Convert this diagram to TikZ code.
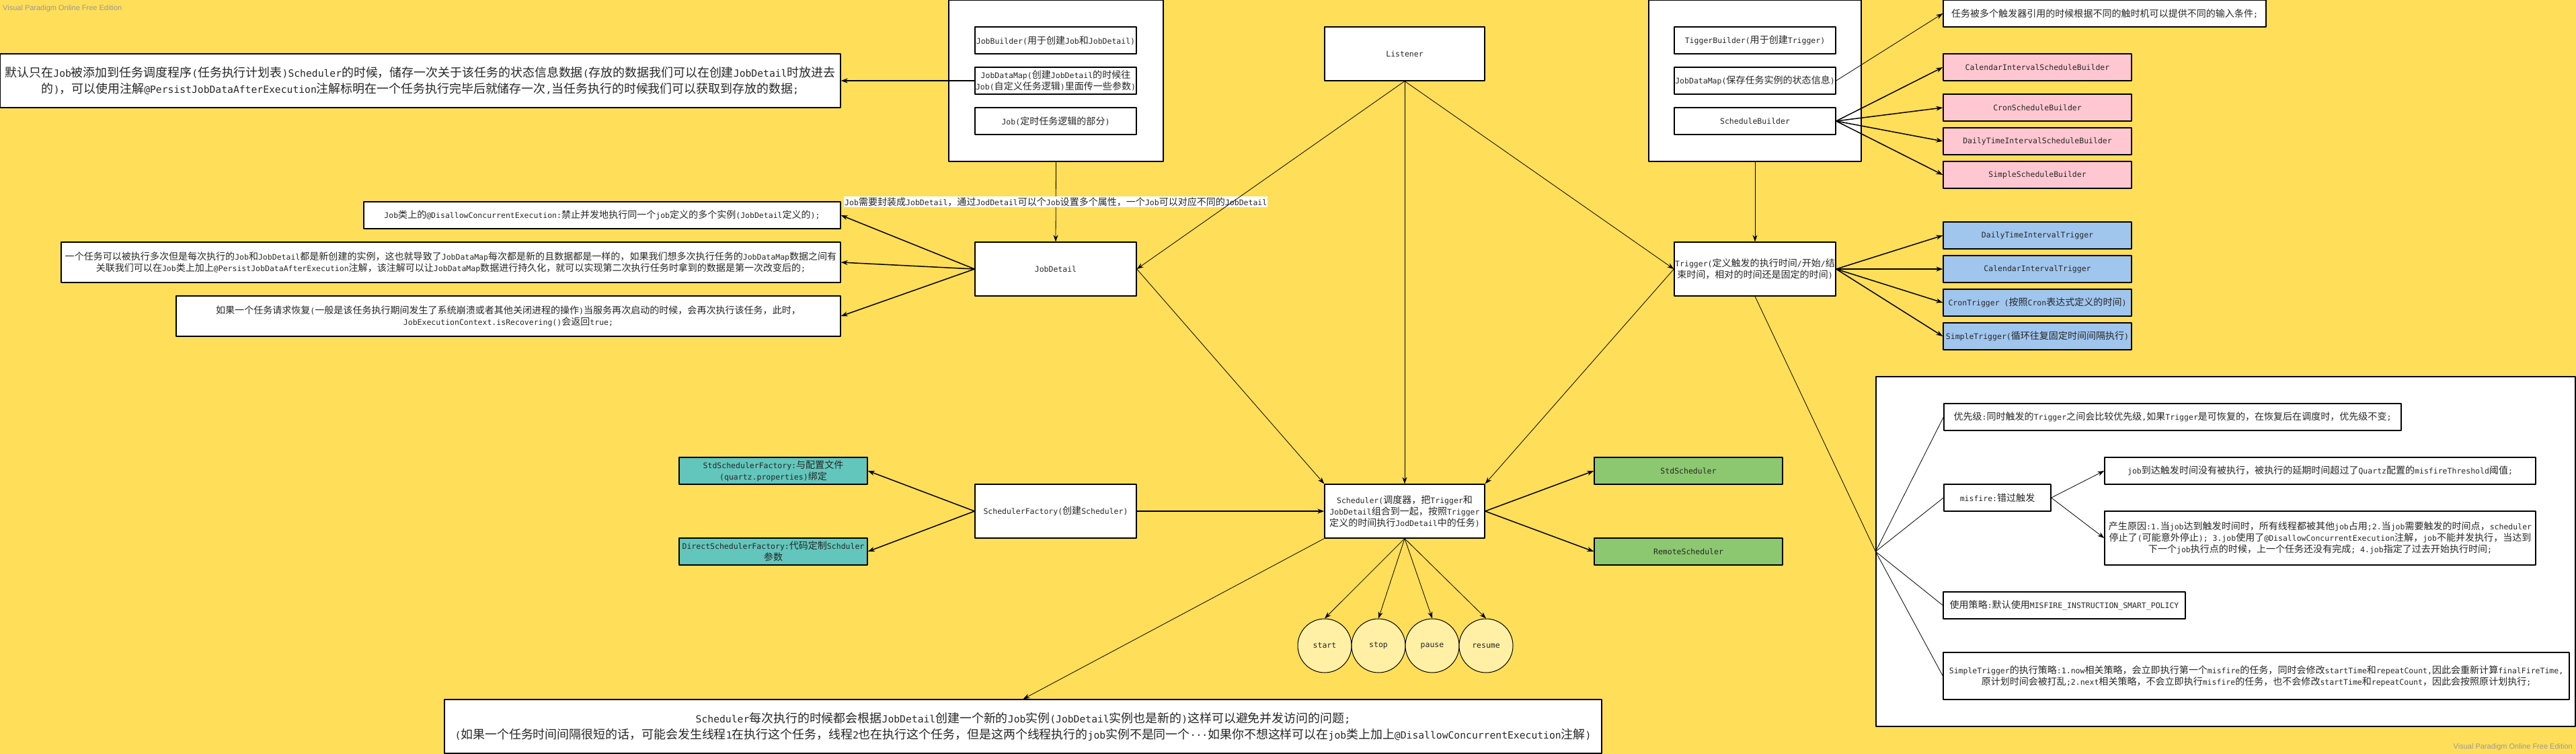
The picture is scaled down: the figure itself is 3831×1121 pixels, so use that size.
\documentclass[tikz,border=0pt]{standalone}
\usepackage{fontspec}
\setmainfont{DejaVu Sans Mono}
\newfontfamily\cjkfont{Noto Sans CJK SC}[Scale=1.22]
\newfontfamily\wmfont{Liberation Sans}
\usetikzlibrary{arrows.meta}
\definecolor{bg}{RGB}{255,222,89}
\definecolor{pinkbox}{RGB}{255,199,210}
\definecolor{bluebox}{RGB}{160,198,238}
\definecolor{tealbox}{RGB}{98,198,188}
\definecolor{greenbox}{RGB}{140,200,112}
\definecolor{dotbox}{RGB}{255,240,166}
\XeTeXinterchartokenstate=1
\newXeTeXintercharclass\cjkclass
\newcount\cjkcode
\def\cjkrange#1#2{\cjkcode=#1\relax
	\loop\XeTeXcharclass\cjkcode=\cjkclass\relax
	\ifnum\cjkcode<#2\advance\cjkcode by 1\repeat}
\cjkrange{"3000}{"303F}
\cjkrange{"4E00}{"9FFF}
\cjkrange{"FF00}{"FFEF}
\XeTeXinterchartoks 0 \cjkclass = {\begingroup\cjkfont}
\XeTeXinterchartoks 4095 \cjkclass = {\begingroup\cjkfont}
\XeTeXinterchartoks \cjkclass 0 = {\endgroup}
\XeTeXinterchartoks \cjkclass 4095 = {\endgroup}
\begin{document}
\begin{tikzpicture}[x=1pt, y=-1pt, >={Stealth[length=10pt,width=7pt]}, font=\fontsize{11.5}{17}\selectfont, line join=round, line cap=round,
	box/.style={draw, line width=1.3pt, fill=white, text=black!85, inner sep=0pt, align=center},
	big/.style={font=\fontsize{14.7}{24}\selectfont},
	thin/.style={->, line width=0.8pt},
	thick/.style={->, line width=1.5pt},
	wm/.style={font=\wmfont\fontsize{11}{13}\selectfont, text=black!40, inner sep=0pt}]
	\path[fill=bg, use as bounding box] (0,0) rectangle (3831,1121);
	\node[wm, anchor=west] (WMa) at (4,13) {Visual Paradigm Online Free Edition};
	\node[wm, anchor=east] (WMb) at (3826,1111) {Visual Paradigm Online Free Edition};
	
	\node[box, minimum width=319, minimum height=240] (JobBox) at (1570.5,120) {};
	\node[box, minimum width=240, minimum height=40] (JBuild) at (1570,60) {JobBuilder(用于创建Job和JobDetail)};
	\node[box, minimum width=240, minimum height=40] (JMap) at (1570,120) {JobDataMap(创建JobDetail的时候往\\Job(自定义任务逻辑)里面传一些参数)};
	\node[box, minimum width=240, minimum height=40] (JobL) at (1570,180) {Job(定时任务逻辑的部分)};
	\node[box, big, minimum width=1250, minimum height=80] (Note) at (625,120) {默认只在Job被添加到任务调度程序(任务执行计划表)Scheduler的时候，储存一次关于该任务的状态信息数据(存放的数据我们可以在创建JobDetail时放进去\\的)，可以使用注解@PersistJobDataAfterExecution注解标明在一个任务执行完毕后就储存一次,当任务执行的时候我们可以获取到存放的数据;};
	\node[box, minimum width=238, minimum height=80] (Lis) at (2089,80) {Listener};
	
	\node[box, minimum width=316, minimum height=240] (TrBox) at (2610,120) {};
	\node[box, minimum width=240, minimum height=40] (TBuild) at (2610,60) {TiggerBuilder(用于创建Trigger)};
	\node[box, minimum width=240, minimum height=40] (TMap) at (2610,120) {JobDataMap(保存任务实例的状态信息)};
	\node[box, minimum width=240, minimum height=40] (SBuild) at (2610,180) {ScheduleBuilder};
	\node[box, minimum width=480, minimum height=40] (TNote) at (3130,20) {任务被多个触发器引用的时候根据不同的触时机可以提供不同的输入条件;};
	\node[box, fill=pinkbox, minimum width=280, minimum height=40] (CalB) at (3030,100) {CalendarIntervalScheduleBuilder};
	\node[box, fill=pinkbox, minimum width=280, minimum height=40] (CronB) at (3030,160) {CronScheduleBuilder};
	\node[box, fill=pinkbox, minimum width=280, minimum height=40] (DailyB) at (3030,210) {DailyTimeIntervalScheduleBuilder};
	\node[box, fill=pinkbox, minimum width=280, minimum height=40] (SimB) at (3030,260) {SimpleScheduleBuilder};
	
	\node[box, minimum width=240, minimum height=80] (JD) at (1570,400) {JobDetail};
	\node[box, minimum width=709, minimum height=40] (Na) at (895.5,320) {Job类上的@DisallowConcurrentExecution:禁止并发地执行同一个job定义的多个实例(JobDetail定义的);};
	\node[box, minimum width=1159, minimum height=60] (Nb) at (670.5,390) {一个任务可以被执行多次但是每次执行的Job和JobDetail都是新创建的实例，这也就导致了JobDataMap每次都是新的且数据都是一样的，如果我们想多次执行任务的JobDataMap数据之间有\\关联我们可以在Job类上加上@PersistJobDataAfterExecution注解，该注解可以让JobDataMap数据进行持久化，就可以实现第二次执行任务时拿到的数据是第一次改变后的;};
	\node[box, minimum width=988, minimum height=60] (Nc) at (756,470) {如果一个任务请求恢复(一般是该任务执行期间发生了系统崩溃或者其他关闭进程的操作)当服务再次启动的时候，会再次执行该任务，此时，\\JobExecutionContext.isRecovering()会返回true;};
	
	\node[box, minimum width=240, minimum height=80] (Tr) at (2610,400) {Trigger(定义触发的执行时间/开始/结\\束时间，相对的时间还是固定的时间)};
	\node[box, fill=bluebox, minimum width=280, minimum height=40] (DailyT) at (3030,350) {DailyTimeIntervalTrigger};
	\node[box, fill=bluebox, minimum width=280, minimum height=40] (CalT) at (3030,400) {CalendarIntervalTrigger};
	\node[box, fill=bluebox, minimum width=280, minimum height=40] (CronT) at (3030,450) {CronTrigger (按照Cron表达式定义的时间)};
	\node[box, fill=bluebox, minimum width=280, minimum height=40] (SimT) at (3030,500) {SimpleTrigger(循环往复固定时间间隔执行)};
	
	\node[box, minimum width=240, minimum height=80] (SF) at (1570,760) {SchedulerFactory(创建Scheduler)};
	\node[box, fill=tealbox, minimum width=280, minimum height=40] (StdF) at (1150,700) {StdSchedulerFactory:与配置文件\\(quartz.properties)绑定};
	\node[box, fill=tealbox, minimum width=280, minimum height=40] (DirF) at (1150,820) {DirectSchedulerFactory:代码定制Schduler\\参数};
	\node[box, minimum width=238, minimum height=80] (Sch) at (2089,760) {Scheduler(调度器，把Trigger和\\JobDetail组合到一起，按照Trigger\\定义的时间执行JodDetail中的任务)};
	\node[box, fill=greenbox, minimum width=280, minimum height=40] (StdS) at (2511,700) {StdScheduler};
	\node[box, fill=greenbox, minimum width=280, minimum height=40] (RemS) at (2511,820) {RemoteScheduler};
	\node[box, circle, fill=dotbox, line width=1pt, minimum size=80] (Start) at (1970,960) {start};
	\node[box, circle, fill=dotbox, line width=1pt, minimum size=80] (Stop) at (2050,960) {stop};
	\node[box, circle, fill=dotbox, line width=1pt, minimum size=80] (Pause) at (2130,960) {pause};
	\node[box, circle, fill=dotbox, line width=1pt, minimum size=80] (Resume) at (2210,960) {resume};
	\node[box, big, minimum width=1721, minimum height=80] (Bot) at (1521.5,1080) {Scheduler每次执行的时候都会根据JobDetail创建一个新的Job实例(JobDetail实例也是新的)这样可以避免并发访问的问题;\\(如果一个任务时间间隔很短的话，可能会发生线程1在执行这个任务，线程2也在执行这个任务，但是这两个线程执行的job实例不是同一个···如果你不想这样可以在job类上加上@DisallowConcurrentExecution注解)};
	
	\node[box, minimum width=1040, minimum height=520] (Pan) at (3310,820) {};
	\node[box, minimum width=680, minimum height=40] (Pri) at (3231,620) {优先级:同时触发的Trigger之间会比较优先级,如果Trigger是可恢复的，在恢复后在调度时，优先级不变;};
	\node[box, minimum width=159, minimum height=40] (Mis) at (2970.5,740) {misfire:错过触发};
	\node[box, minimum width=641, minimum height=40] (Thr) at (3450.5,700) {job到达触发时间没有被执行，被执行的延期时间超过了Quartz配置的misfireThreshold阈值;};
	\node[box, minimum width=641, minimum height=80] (Cau) at (3450.5,800) {产生原因:1.当job达到触发时间时，所有线程都被其他job占用;2.当job需要触发的时间点，scheduler\\停止了(可能意外停止); 3.job使用了@DisallowConcurrentExecution注解，job不能并发执行，当达到\\下一个job执行点的时候，上一个任务还没有完成; 4.job指定了过去开始执行时间;};
	\node[box, minimum width=360, minimum height=40] (Pol) at (3070,900) {使用策略:默认使用MISFIRE\_INSTRUCTION\_SMART\_POLICY};
	\node[box, minimum width=931, minimum height=70] (STP) at (3355.5,1005) {SimpleTrigger的执行策略:1.now相关策略，会立即执行第一个misfire的任务，同时会修改startTime和repeatCount,因此会重新计算finalFireTime,\\原计划时间会被打乱;2.next相关策略，不会立即执行misfire的任务，也不会修改startTime和repeatCount，因此会按照原计划执行;};
	
	\draw[thin] (JobBox.south) -- node[fill=white, text=black!85, inner sep=1pt] (Lbl) {Job需要封装成JobDetail，通过JodDetail可以个Job设置多个属性，一个Job可以对应不同的JobDetail} (JD.north);
	\draw[thick] (JMap.west) -- (Note.east);
	\draw[thick] (JD.west) -- (Na.east);
	\draw[thick] (JD.west) -- (Nb.east);
	\draw[thick] (JD.west) -- (Nc.east);
	\draw[thin] (Lis.south) -- (JD.east);
	\draw[thin] (Lis.south) -- (Sch.north);
	\draw[thin] (Lis.south) -- (Tr.west);
	\draw[thin] (JD.east) -- (Sch.north west);
	\draw[thin] (Tr.west) -- (Sch.north east);
	\draw[thin] (TrBox.south) -- (Tr.north);
	\draw[thin] (TMap.east) -- (TNote.west);
	\draw[thick] (SBuild.east) -- (CalB.west);
	\draw[thick] (SBuild.east) -- (CronB.west);
	\draw[thick] (SBuild.east) -- (DailyB.west);
	\draw[thick] (SBuild.east) -- (SimB.west);
	\draw[thick] (Tr.east) -- (DailyT.west);
	\draw[thick] (Tr.east) -- (CalT.west);
	\draw[thick] (Tr.east) -- (CronT.west);
	\draw[thick] (Tr.east) -- (SimT.west);
	\draw[line width=0.8pt] (Tr.south) -- (Pan.west);
	\draw[line width=0.8pt] (Pan.west) -- (Pri.west);
	\draw[line width=0.8pt] (Pan.west) -- (Mis.west);
	\draw[line width=0.8pt] (Pan.west) -- (Pol.west);
	\draw[line width=0.8pt] (Pan.west) -- (STP.west);
	\draw[thin] (Mis.east) -- (Thr.west);
	\draw[thin] (Mis.east) -- (Cau.west);
	\draw[thick] (SF.east) -- (Sch.west);
	\draw[thick] (SF.west) -- (StdF.east);
	\draw[thick] (SF.west) -- (DirF.east);
	\draw[thick] (Sch.east) -- (StdS.west);
	\draw[thick] (Sch.east) -- (RemS.west);
	\draw[thin] (Sch.south) -- (Start.north);
	\draw[thin] (Sch.south) -- (Stop.north);
	\draw[thin] (Sch.south) -- (Pause.north);
	\draw[thin] (Sch.south) -- (Resume.north);
	\draw[thin] (Sch.south west) -- (Bot.north);
\end{tikzpicture}
\end{document}
